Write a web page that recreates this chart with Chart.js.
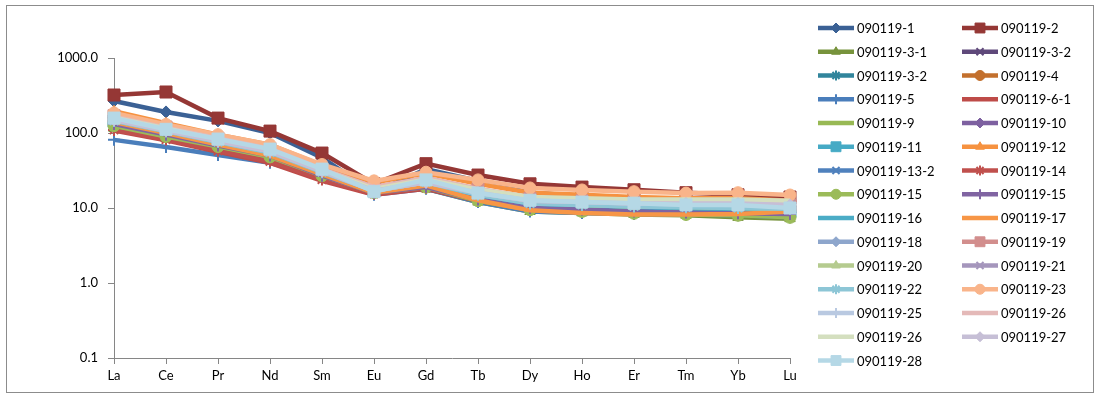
<!DOCTYPE html>
<html>
<head>
<meta charset="utf-8">
<script src="https://cdn.jsdelivr.net/npm/chart.js@4.4.0/dist/chart.umd.min.js"></script>
<style>
html,body{margin:0;padding:0;background:#fff;}
#wrap{position:absolute;left:0;top:0;width:1095px;height:397px;}
</style>
</head>
<body>
<div id="wrap"><canvas id="c" width="1095" height="397"></canvas></div>
<script>
// ---- data ----
const categories = ['La','Ce','Pr','Nd','Sm','Eu','Gd','Tb','Dy','Ho','Er','Tm','Yb','Lu'];
const yTickValues = [0.1, 1, 10, 100, 1000];
const seriesNames = ['090119-1','090119-2','090119-3-1','090119-3-2','090119-3-2','090119-4','090119-5','090119-6-1','090119-9','090119-10','090119-11','090119-12','090119-13-2','090119-14','090119-15','090119-15','090119-16','090119-17','090119-18','090119-19','090119-20','090119-21','090119-22','090119-23','090119-25','090119-26','090119-26','090119-27','090119-28'];

const s01 = [267,191,145,100,47,16,33,23,16,14.5,13.5,12.5,12,11.5];
const s02 = [321,352,158,106,54,21,39,27.5,21,19,17.5,16,15,14];
const s03 = [115,85,62,46,26,16,18,12,9,8.6,8.2,8.0,7.5,7.2];
const s04 = [125,90,66,48,27,16,20,13,10,9.5,9,8.8,8.6,8.2];
const s05 = [130,95,68,50,28,16,20,13.5,10.5,10,9.5,9.2,9,8.8];
const s06 = [140,100,72,52,29,17,21,14,11,10.5,10,9.5,9.3,9];
const s07 = [81,65,51,40,25,15,18,12,9,8.6,8.3,8.2,8,7.5];
const s08 = [108,80,56,40,23,15,18,12.5,9.5,9,8.5,8.3,8.1,7.8];
const s09 = [120,88,64,47,27,17,20,13,10,9.5,9,8.7,8.5,8.2];
const s10 = [135,98,70,50,28,16,19,13,10.5,10,9.5,9.2,9,8.7];
const s11 = [145,105,75,55,30,17,22,15,11,10.5,10,9.8,9.5,9];
const s12 = [195,135,95,70,37,22,29,21,16,15,14,13.5,13.5,12.5];
const s13 = [128,92,68,50,28,16,19,13,10,9.5,9,8.6,8.4,8.0];
const s14 = [110,82,58,42,24,15.5,18.5,12.5,9.8,9.2,8.8,8.5,8.2,8.0];
const s15 = [125,90,66,48,27,16,19,12.5,9.5,9,8.5,8.2,8,7.5];
const s16 = [132,95,68,50,27,16,19,13,10,9.5,9,8.7,8.5,8.3];
const s17 = [150,108,78,57,31,17,22,15,11.5,11,10.5,10,9.8,9.5];
const s18 = [140,100,70,50,28,16,20,12.7,9.3,8.6,8.2,8.2,8.3,9];
const s19 = [160,115,82,60,32,18,24,17,13,12,11.5,11,11,10.5];
const s20 = [170,120,85,62,33,19,25,18,13.5,12.5,12,11.5,11.5,11];
const s21 = [150,108,78,57,31,17,22,15.5,12,11,10.5,10.3,10,9.8];
const s22 = [155,110,80,58,32,18,23,16.5,13,12.5,12,12,12,11.5];
const s23 = [145,105,76,55,30,17,22,15,11.5,11,10.5,10.2,10,9.8];
const s24 = [185,130,95,70,38,23,30,23.7,18.5,17.4,16.5,15.8,16,14.9];
const s25 = [150,108,78,57,31,17,22,16,12.5,12,11.5,11.2,11,10.5];
const s26 = [165,118,85,62,33,19,25,18,14,13,12.5,12,12,11.5];
const s27 = [160,115,82,60,32,18,24,17.5,14,13.5,13,13,13,12.5];
const s28 = [150,108,78,57,31,17,22,16,12.5,12,11.5,11.5,11.5,11];
const s29 = [158,112,83,61,33,16.5,23.7,15.8,12.7,12,11.6,11,11,10];
const seriesValues = [s01,s02,s03,s04,s05,s06,s07,s08,s09,s10,s11,s12,s13,s14,s15,s16,s17,s18,s19,s20,s21,s22,s23,s24,s25,s26,s27,s28,s29];

// ---- styles ----
const seriesColors = ['#3B6195','#953735','#77933C','#5F497A','#31859C','#C3702D',
  '#4A7EBB','#BE4B48','#98B954','#7D60A0','#46AAC5','#F69240',
  '#4F81BD','#C0504D','#9BBB59','#8064A2','#4BACC6','#F79646',
  '#8EA6CC','#D28E8D','#B5CB8F','#A596BC','#8DC6D6','#F9B48A',
  '#B9C9E1','#E4B9B8','#D4DFBF','#C6BFD6','#B5D8E6'];
const markerCycle = ['rectRot','rect','triangle','crossRot','star','circle','cross',null,null];
const FONT = 'Lato, "Open Sans", "Liberation Sans", sans-serif';

const datasets = seriesValues.map((vals, i) => {
  const ps = markerCycle[i % markerCycle.length];
  return {
    label: seriesNames[i],
    data: vals,
    borderColor: seriesColors[i],
    backgroundColor: seriesColors[i],
    borderWidth: 4.5,
    pointStyle: ps || 'circle',
    pointRadius: ps ? (ps === 'rect' ? 8.5 : 6) : 0,
    pointBorderWidth: (ps === 'cross' || ps === 'crossRot' || ps === 'star') ? 2 : 1,
    pointHoverRadius: 0,
    tension: 0,
    fill: false,
    order: -i
  };
});

function drawMarker(ctx, style, r, x, y, color, bw) {
  if (Chart.helpers && Chart.helpers.drawPoint) {
    ctx.save();
    ctx.fillStyle = color; ctx.strokeStyle = color; ctx.lineWidth = bw;
    Chart.helpers.drawPoint(ctx, {pointStyle: style, radius: r, rotation: 0, borderWidth: bw}, x, y);
    ctx.restore();
  }
}

const framePlugin = {
  id: 'frame',
  beforeDraw(chart) {
    const ctx = chart.ctx;
    ctx.save();
    ctx.fillStyle = '#fff';
    ctx.fillRect(0, 0, chart.width, chart.height);
    ctx.strokeStyle = '#8c8c8c';
    ctx.lineWidth = 1;
    ctx.strokeRect(6.5, 5.5, 1087, 387);
    ctx.restore();
  }
};

const legendPlugin = {
  id: 'gridLegend',
  afterDraw(chart) {
    const ctx = chart.ctx;
    ctx.save();
    chart.data.datasets.forEach((ds, i) => {
      const row = Math.floor(i / 2), col = i % 2;
      const x0 = col ? 962 : 818;
      const y = 28 + row * 23.75;
      ctx.strokeStyle = ds.borderColor;
      ctx.lineWidth = 4.5;
      ctx.lineCap = 'butt';
      ctx.beginPath();
      ctx.moveTo(x0, y); ctx.lineTo(x0 + 36, y);
      ctx.stroke();
      if (ds.pointRadius > 0) {
        drawMarker(ctx, ds.pointStyle, ds.pointStyle === 'rect' ? 7 : 5, x0 + 18, y, ds.borderColor, ds.pointBorderWidth);
      }
      ctx.fillStyle = '#000';
      ctx.font = '13px ' + FONT;
      ctx.textAlign = 'left';
      ctx.textBaseline = 'middle';
      ctx.fillText(ds.label, x0 + 39, y + 1);
    });
    ctx.restore();
  }
};

new Chart(document.getElementById('c'), {
  type: 'line',
  data: { labels: categories, datasets },
  options: {
    responsive: false,
    animation: false,
    devicePixelRatio: 1,
    layout: { padding: { left: 0, top: 58, right: 305, bottom: 0 } },
    plugins: { legend: { display: false }, tooltip: { enabled: false } },
    scales: {
      x: {
        type: 'category',
        offset: false,
        grid: { display: true, drawOnChartArea: false, drawTicks: true, tickLength: 6, color: '#868686', offset: false },
        border: { display: true, color: '#868686', width: 1 },
        ticks: { color: '#000', font: { family: FONT, size: 13 }, padding: 4, maxRotation: 0, autoSkip: false },
        afterFit(s) { s.height = 39; }
      },
      y: {
        type: 'logarithmic',
        min: 0.1,
        max: 1000,
        afterBuildTicks(s) { s.ticks = yTickValues.map(v => ({ value: v, major: false })); },
        grid: { display: true, drawOnChartArea: false, drawTicks: true, tickLength: 6, color: '#868686' },
        border: { display: true, color: '#868686', width: 1 },
        ticks: { color: '#000', font: { family: FONT, size: 13 }, padding: 10, callback: v => Number(v).toFixed(1) },
        afterFit(s) { s.width = 114; }
      }
    }
  },
  plugins: [framePlugin, legendPlugin]
});
</script>
</body>
</html>
